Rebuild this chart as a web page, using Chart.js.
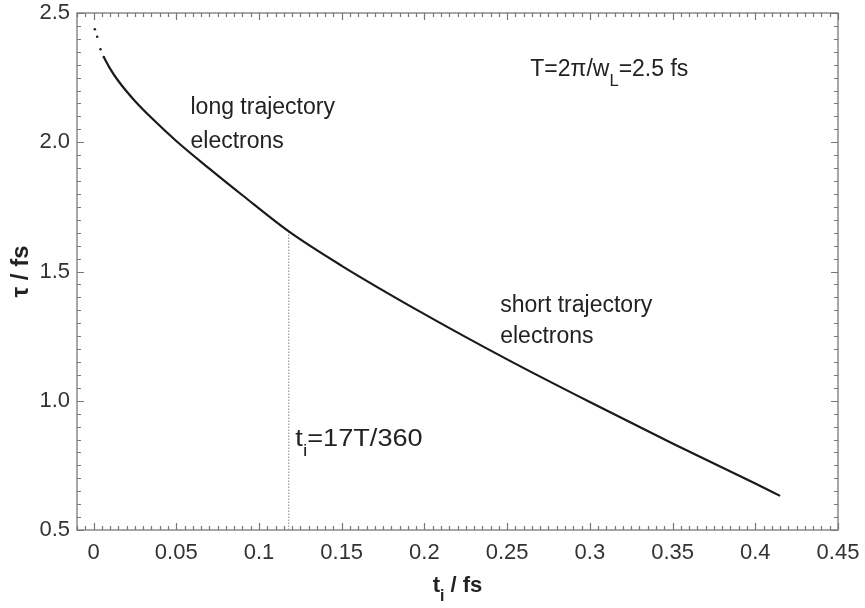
<!DOCTYPE html>
<html>
<head>
<meta charset="utf-8">
<script src="https://cdn.jsdelivr.net/npm/chart.js@4"></script>
<style>
  html, body { margin: 0; padding: 0; background: #fff; }
</style>
</head>
<body>
<canvas id="chart" width="865" height="608"></canvas>
<script>
// ionisation time t_i (fs) and excursion time tau (fs)
const startTi = [0.0008, 0.0022, 0.0042, 0.0062];
const startTau = [2.437, 2.408, 2.36, 2.33];
const curveTi = [0.0062, 0.01, 0.015, 0.025, 0.0364, 0.05, 0.07, 0.09, 0.118, 0.15, 0.2, 0.25, 0.3, 0.35, 0.4, 0.415];
const curveTau = [2.33, 2.285, 2.237, 2.16, 2.086, 2.005, 1.898, 1.795, 1.655, 1.522, 1.335, 1.16, 0.995, 0.835, 0.68, 0.632];

// marker at t_i = 17T/360
const markerTi = [0.118, 0.118];
const markerTau = [0.5, 1.655];

const xTicks = [0, 0.05, 0.1, 0.15, 0.2, 0.25, 0.3, 0.35, 0.4, 0.45];
const xTickLabels = ["0", "0.05", "0.1", "0.15", "0.2", "0.25", "0.3", "0.35", "0.4", "0.45"];
const yTicks = [0.5, 1.0, 1.5, 2.0, 2.5];
const yTickLabels = ["0.5", "1.0", "1.5", "2.0", "2.5"];

const FONT = '"Liberation Sans", Arial, Helvetica, sans-serif';

function toPoints(xs, ys) {
  return xs.map((x, i) => ({ x: x, y: ys[i] }));
}

// draws text made of normal and subscript pieces
function drawRich(ctx, parts, x, y, size, bold, align, stretch) {
  const w = bold ? "bold " : "";
  const sx = stretch || 1;
  let total = 0;
  parts.forEach((p) => {
    ctx.font = w + (p.sub ? size * 0.72 : size) + "px " + FONT;
    total += ctx.measureText(p.t).width;
  });
  ctx.save();
  ctx.translate(align === "center" ? x - (total * sx) / 2 : x, y);
  ctx.scale(sx, 1);
  let cx = 0;
  ctx.textAlign = "left";
  ctx.textBaseline = "alphabetic";
  parts.forEach((p) => {
    ctx.font = w + (p.sub ? size * 0.72 : size) + "px " + FONT;
    ctx.fillText(p.t, cx, p.sub ? size * 0.42 : 0);
    cx += ctx.measureText(p.t).width;
  });
  ctx.restore();
}

const frame = {
  id: "frame",
  afterDraw(chart) {
    const ctx = chart.ctx;
    const a = chart.chartArea;
    const xs = chart.scales.x;
    const ys = chart.scales.y;
    ctx.save();

    // box
    ctx.strokeStyle = "#8a8a8a";
    ctx.lineWidth = 1.5;
    ctx.strokeRect(a.left, a.top, a.right - a.left, a.bottom - a.top);

    // inward ticks on all four sides
    ctx.lineWidth = 1.2;
    ctx.strokeStyle = "#777";
    const xStep = 0.005;
    for (let k = Math.ceil(xs.min / xStep - 1e-9); k * xStep <= xs.max + 1e-9; k++) {
      const px = Math.round(xs.getPixelForValue(k * xStep)) + 0.5;
      const len = k % 10 === 0 ? 7 : 4;
      ctx.beginPath();
      ctx.moveTo(px, a.bottom);
      ctx.lineTo(px, a.bottom - len);
      ctx.moveTo(px, a.top);
      ctx.lineTo(px, a.top + len);
      ctx.stroke();
    }
    const yStep = 0.05;
    for (let k = Math.ceil(ys.min / yStep - 1e-9); k * yStep <= ys.max + 1e-9; k++) {
      const py = Math.round(ys.getPixelForValue(k * yStep)) + 0.5;
      const len = k % 10 === 0 ? 7 : 4;
      ctx.beginPath();
      ctx.moveTo(a.left, py);
      ctx.lineTo(a.left + len, py);
      ctx.moveTo(a.right, py);
      ctx.lineTo(a.right - len, py);
      ctx.stroke();
    }

    // annotations
    ctx.fillStyle = "#222";
    const size = 23;
    const at = (x, y) => [xs.getPixelForValue(x), ys.getPixelForValue(y)];
    let p = at(0.0586, 2.109);
    drawRich(ctx, [{ t: "long trajectory" }], p[0], p[1], size);
    p = at(0.0586, 1.978);
    drawRich(ctx, [{ t: "electrons" }], p[0], p[1], size);
    p = at(0.2458, 1.3445);
    drawRich(ctx, [{ t: "short trajectory" }], p[0], p[1], size);
    p = at(0.2458, 1.2234);
    drawRich(ctx, [{ t: "electrons" }], p[0], p[1], size);
    p = at(0.264, 2.256);
    drawRich(ctx, [{ t: "T=2π/w" }, { t: "L", sub: true }, { t: "=2.5 fs" }], p[0], p[1], size);
    p = at(0.122, 0.825);
    drawRich(ctx, [{ t: "t" }, { t: "i", sub: true }, { t: "=17T/360" }], p[0], p[1], size, false, "left", 1.18);

    // axis titles
    drawRich(ctx, [{ t: "t" }, { t: "i", sub: true }, { t: " / fs" }], (a.left + a.right) / 2, 592, 22, true, "center");
    ctx.translate(28, (a.top + a.bottom) / 2);
    ctx.rotate(-Math.PI / 2);
    drawRich(ctx, [{ t: "τ / fs" }], 0, 0, 24, true, "center");
    ctx.restore();
  },
};

new Chart(document.getElementById("chart").getContext("2d"), {
  type: "scatter",
  data: {
    datasets: [
      {
        data: toPoints(startTi, startTau),
        showLine: false,
        pointRadius: 1.3,
        pointBorderWidth: 0,
        pointBackgroundColor: "#222",
      },
      {
        data: toPoints(curveTi, curveTau),
        showLine: true,
        borderColor: "#1a1a1a",
        borderWidth: 2.2,
        pointRadius: 0,
        cubicInterpolationMode: "monotone",
      },
      {
        data: toPoints(markerTi, markerTau),
        showLine: true,
        borderColor: "#888",
        borderWidth: 1,
        borderDash: [1.5, 1.5],
        pointRadius: 0,
      },
    ],
  },
  options: {
    responsive: false,
    animation: false,
    layout: { padding: { top: 13, right: 27, left: 0, bottom: 0 } },
    plugins: { legend: { display: false }, tooltip: { enabled: false } },
    scales: {
      x: {
        type: "linear",
        min: -0.01,
        max: 0.45,
        afterBuildTicks: (s) => { s.ticks = xTicks.map((v) => ({ value: v })); },
        afterFit: (s) => {
          s.height = 78;
          s.paddingLeft = 0;
          s.paddingRight = 0;
        },
        ticks: {
          callback: (v, i) => xTickLabels[i],
          font: { size: 22, family: FONT },
          color: "#333",
          padding: 10,
          maxRotation: 0,
          autoSkip: false,
        },
        grid: { display: false, drawTicks: false },
        border: { display: false },
      },
      y: {
        min: 0.5,
        max: 2.5,
        afterBuildTicks: (s) => { s.ticks = yTicks.map((v) => ({ value: v })); },
        afterFit: (s) => {
          s.width = 77;
          s.paddingTop = 0;
          s.paddingBottom = 0;
        },
        ticks: {
          callback: (v, i) => yTickLabels[i],
          font: { size: 22, family: FONT },
          color: "#333",
          padding: 7,
          autoSkip: false,
        },
        grid: { display: false, drawTicks: false },
        border: { display: false },
      },
    },
  },
  plugins: [frame],
});
</script>
</body>
</html>
